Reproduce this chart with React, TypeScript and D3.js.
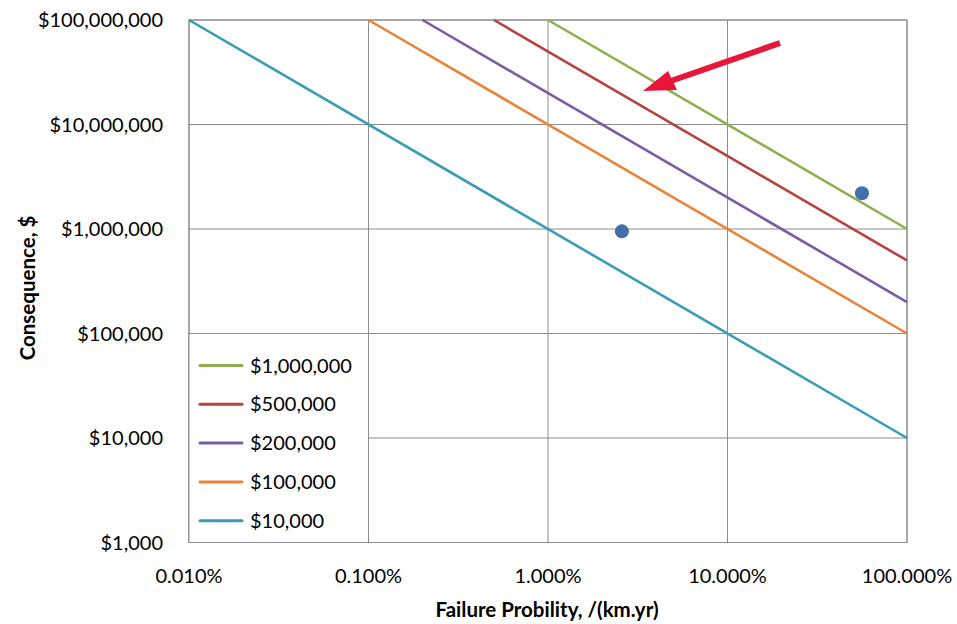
import React from "react";
import * as d3 from "d3";

const riskLevels = [1000000, 500000, 200000, 100000, 10000];
const riskLabels = ["$1,000,000", "$500,000", "$200,000", "$100,000", "$10,000"];
const riskColors = ["#8db04c", "#b5443f", "#7a5ca3", "#e8843a", "#3b9db5"];

const pointProb = [0.0258, 0.561];
const pointCons = [950000, 2200000];

const xTicks = [0.0001, 0.001, 0.01, 0.1, 1];
const xTickLabels = ["0.010%", "0.100%", "1.000%", "10.000%", "100.000%"];
const yTicks = [1000, 10000, 100000, 1000000, 10000000, 100000000];
const yTickLabels = ["$1,000", "$10,000", "$100,000", "$1,000,000", "$10,000,000", "$100,000,000"];

const FONT = "Lato, 'Open Sans', sans-serif";

export default function App() {
  const W = 957, H = 624;
  const left = 189, right = 907, top = 20, bottom = 542.5;
  const x = d3.scaleLog().domain([0.0001, 1]).range([left, right]);
  const y = d3.scaleLog().domain([1000, 100000000]).range([bottom, top]);
  const grid = "#8c8c8c";
  const txt = "#000";

  const line = d3.line<[number, number]>().x(d => x(d[0])).y(d => y(d[1]));

  const legendX = left, legendY = y(100000);
  const legendW = x(0.001) - left, legendH = bottom - legendY;

  return (
    <svg width={W} height={H} style={{ position: "absolute", left: 0, top: 0 }}>
      <rect x={0} y={0} width={W} height={H} fill="#fff" />
      {xTicks.map((t, i) => (
        <line key={"gx" + i} x1={x(t)} x2={x(t)} y1={top} y2={bottom} stroke={grid} strokeWidth={1} />
      ))}
      {yTicks.map((t, i) => (
        <line key={"gy" + i} x1={left} x2={right} y1={y(t)} y2={y(t)} stroke={grid} strokeWidth={1} />
      ))}
      <rect x={left} y={top} width={right - left} height={bottom - top} fill="none" stroke={grid} strokeWidth={1} />
      {riskLevels.map((r, i) => {
        const p0 = Math.max(0.0001, r / 100000000);
        const pts: [number, number][] = [[p0, r / p0], [1, r / 1]];
        return <path key={"l" + i} d={line(pts) || ""} fill="none" stroke={riskColors[i]} strokeWidth={2.6} />;
      })}
      {pointProb.map((p, i) => (
        <circle key={"p" + i} cx={x(p)} cy={y(pointCons[i])} r={7} fill="#4170aa" />
      ))}
      <rect x={legendX} y={legendY} width={legendW} height={legendH} fill="#fff" stroke={grid} strokeWidth={1} />
      {riskLabels.map((lab, i) => {
        const ly = legendY + 32 + i * 38.8;
        return (
          <g key={"lg" + i}>
            <line x1={legendX + 11} x2={legendX + 53} y1={ly} y2={ly} stroke={riskColors[i]} strokeWidth={3} strokeLinecap="round" />
            <text x={legendX + 61} y={ly} dy="0.35em" fontFamily={FONT} fontSize={20} fill={txt}>{lab}</text>
          </g>
        );
      })}
      {yTicks.map((t, i) => (
        <text key={"ty" + i} x={163} y={y(t)} dy="0.35em" textAnchor="end" fontFamily={FONT} fontSize={20} fill={txt}>{yTickLabels[i]}</text>
      ))}
      {xTicks.map((t, i) => (
        <text key={"tx" + i} x={x(t)} y={576} dy="0.35em" textAnchor="middle" fontFamily={FONT} fontSize={20} fill={txt}>{xTickLabels[i]}</text>
      ))}
      <text x={547} y={610} dy="0.35em" textAnchor="middle" fontFamily={FONT} fontWeight="bold" fontSize={20.5} fill={txt}>Failure Probility, /(km.yr)</text>
      <text transform="translate(28,288) rotate(-90)" dy="0.35em" textAnchor="middle" fontFamily={FONT} fontWeight="bold" fontSize={20.5} fill={txt}>Consequence, $</text>
      <line x1={780} y1={43} x2={665} y2={83} stroke="#e8173a" strokeWidth={6} />
      <polygon points="643,91 668,71 677,90" fill="#e8173a" />
    </svg>
  );
}
